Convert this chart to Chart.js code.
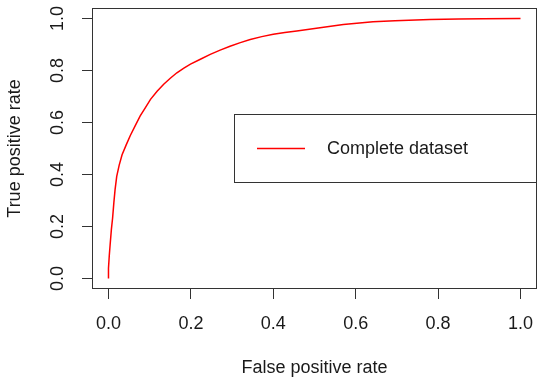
<!DOCTYPE html>
<html>
<head>
<meta charset="utf-8">
<script src="https://cdn.jsdelivr.net/npm/chart.js@4/dist/chart.umd.min.js"></script>
<style>
html,body{margin:0;padding:0;background:#fff;}
canvas{display:block;}
</style>
</head>
<body>
<canvas id="c" width="550" height="388"></canvas>
<script>
// ROC curve values
const fpr = [0, 0, 0.002, 0.004, 0.007, 0.010, 0.013, 0.016, 0.020, 0.026, 0.033, 0.043, 0.053, 0.065, 0.077, 0.090, 0.102, 0.118, 0.134, 0.150, 0.166, 0.183, 0.199, 0.223, 0.247, 0.271, 0.295, 0.320, 0.344, 0.372, 0.400, 0.428, 0.457, 0.509, 0.570, 0.642, 0.695, 0.780, 0.850, 0.909, 1.0];
const tpr = [0, 0.04, 0.09, 0.13, 0.188, 0.233, 0.291, 0.342, 0.393, 0.436, 0.476, 0.514, 0.550, 0.588, 0.625, 0.658, 0.689, 0.720, 0.747, 0.770, 0.791, 0.809, 0.824, 0.843, 0.862, 0.878, 0.893, 0.907, 0.919, 0.930, 0.939, 0.946, 0.952, 0.963, 0.977, 0.987, 0.991, 0.996, 0.998, 0.999, 1.0];
const xTicks = [0, 0.2, 0.4, 0.6, 0.8, 1.0];
const yTicks = [0, 0.2, 0.4, 0.6, 0.8, 1.0];
const seriesName = 'Complete dataset';
const xTitle = 'False positive rate';
const yTitle = 'True positive rate';

const FONT = "'Liberation Sans', Arial, sans-serif";
const points = fpr.map((v, i) => ({x: v, y: tpr[i]}));

const boxPlugin = {
  id: 'rbox',
  beforeDraw(chart) {
    const ctx = chart.ctx;
    ctx.save();
    ctx.fillStyle = '#fff';
    ctx.fillRect(0, 0, chart.width, chart.height);
    ctx.restore();
  },
  afterDraw(chart) {
    const ctx = chart.ctx;
    const a = chart.chartArea;
    ctx.save();
    ctx.strokeStyle = '#333';
    ctx.lineWidth = 1;
    ctx.strokeRect(a.left + 0.5, a.top + 0.5, a.right - a.left - 1, a.bottom - a.top - 1);
    // legend (R style, "right" position)
    const bw = 303, bh = 69;
    const bx = a.right - bw, by = Math.round((a.top + a.bottom) / 2 - bh / 2);
    ctx.fillStyle = '#fff';
    ctx.fillRect(bx, by, bw, bh);
    ctx.strokeRect(bx + 0.5, by + 0.5, bw - 1, bh - 1);
    const ds = chart.data.datasets[0];
    const ly = by + bh / 2;
    ctx.strokeStyle = ds.borderColor;
    ctx.lineWidth = 1.5;
    ctx.beginPath();
    ctx.moveTo(bx + 23, ly);
    ctx.lineTo(bx + 71, ly);
    ctx.stroke();
    ctx.fillStyle = '#1a1a1a';
    ctx.font = '18px ' + FONT;
    ctx.textAlign = 'left';
    ctx.textBaseline = 'middle';
    ctx.fillText(ds.label, bx + 93, ly + 1);
    ctx.restore();
  }
};

new Chart(document.getElementById('c'), {
  type: 'scatter',
  data: {
    datasets: [{
      label: seriesName,
      data: points,
      showLine: true,
      borderColor: '#ff0000',
      backgroundColor: '#ff0000',
      borderWidth: 1.5,
      pointRadius: 0,
      pointHoverRadius: 0,
      tension: 0
    }]
  },
  options: {
    responsive: false,
    animation: false,
    devicePixelRatio: 1,
    layout: {padding: {left: 0, top: 8, right: 13, bottom: 0}},
    plugins: {legend: {display: false}, tooltip: {enabled: false}},
    scales: {
      x: {
        type: 'linear',
        min: -0.04, max: 1.04,
        afterBuildTicks: s => { s.ticks = xTicks.map(v => ({value: v})); },
        afterFit: s => { s.height = 99; s.paddingLeft = 0; s.paddingRight = 0; },
        grid: {display: true, drawOnChartArea: false, drawTicks: true, tickLength: 10, color: '#333', lineWidth: 1},
        border: {display: false},
        ticks: {
          color: '#1a1a1a', padding: 14, maxRotation: 0, autoSkip: false,
          font: {family: FONT, size: 18},
          callback: v => v.toFixed(1)
        },
        title: {display: true, text: xTitle, color: '#1a1a1a', font: {family: FONT, size: 18}, padding: {top: 0, bottom: 9}}
      },
      y: {
        type: 'linear',
        min: -0.04, max: 1.04,
        afterBuildTicks: s => { s.ticks = yTicks.map(v => ({value: v})); },
        afterFit: s => { s.width = 92; s.paddingTop = 0; s.paddingBottom = 0; },
        grid: {display: true, drawOnChartArea: false, drawTicks: true, tickLength: 10, color: '#333', lineWidth: 1},
        border: {display: false},
        ticks: {
          color: '#1a1a1a', padding: 11, minRotation: 90, maxRotation: 90, crossAlign: 'center', autoSkip: false,
          font: {family: FONT, size: 18},
          callback: v => v.toFixed(1)
        },
        title: {display: true, text: yTitle, color: '#1a1a1a', font: {family: FONT, size: 18}, padding: {top: 4, bottom: 0}}
      }
    }
  },
  plugins: [boxPlugin]
});
</script>
</body>
</html>
